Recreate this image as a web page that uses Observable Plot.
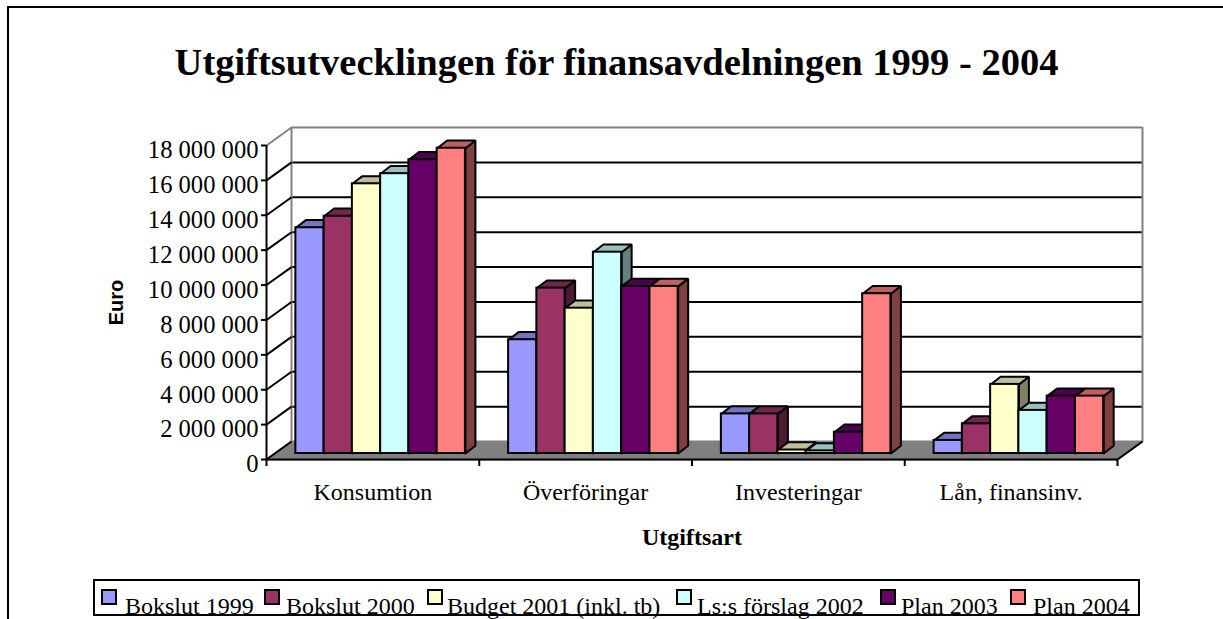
<!DOCTYPE html>
<html lang="sv">
<head>
<meta charset="utf-8">
<title>Utgiftsutvecklingen</title>
<script src="https://cdn.jsdelivr.net/npm/d3@7"></script>
<script src="https://cdn.jsdelivr.net/npm/@observablehq/plot@0.6"></script>
<style>
  html, body { margin: 0; padding: 0; background: #fff; overflow: hidden; width: 1223px; height: 619px; }
  body { position: relative; font-family: "Liberation Serif", "Times New Roman", serif; color: #000; }
  #frame { position: absolute; left: 7px; top: 6px; width: 1216px; height: 613px; border-left: 2px solid #000; border-top: 2px solid #000; box-sizing: border-box; }
  #title { position: absolute; left: 0; width: 1233px; top: 40px; text-align: center; font-size: 38.5px; font-weight: bold; line-height: 44px; white-space: nowrap; }
  #chart { position: absolute; left: 0; top: 110px; }
  #chart svg { display: block; background: transparent; }
  #legend { position: absolute; left: 93px; top: 579px; width: 1043px; height: 33px; border: 2px solid #000; box-sizing: content-box; }
  .sw { position: absolute; top: 8px; width: 12px; height: 12px; border: 2px solid #000; }
  .lb { position: absolute; top: 11px; font-size: 24px; line-height: 28px; white-space: nowrap; }
</style>
</head>
<body>
<div id="frame"></div>
<div id="title">Utgiftsutvecklingen för finansavdelningen 1999 - 2004</div>
<div id="chart"></div>
<div id="legend"></div>
<script>
const categories = ["Konsumtion", "Överföringar", "Investeringar", "Lån, finansinv."];
const seriesNames = ["Bokslut 1999", "Bokslut 2000", "Budget 2001 (inkl. tb)", "Ls:s förslag 2002", "Plan 2003", "Plan 2004"];
const bokslut1999 = [12940000, 6520000, 2270000, 750000];
const bokslut2000 = [13600000, 9480000, 2270000, 1700000];
const budget2001 = [15460000, 8330000, 200000, 3960000];
const forslag2002 = [16040000, 11540000, 150000, 2470000];
const plan2003 = [16840000, 9580000, 1220000, 3290000];
const plan2004 = [17500000, 9580000, 9160000, 3290000];
const seriesValues = [bokslut1999, bokslut2000, budget2001, forslag2002, plan2003, plan2004];
const yTicks = [0, 2e6, 4e6, 6e6, 8e6, 10e6, 12e6, 14e6, 16e6, 18e6];

const frontColors = ["#9999ff", "#993366", "#ffffcc", "#ccffff", "#660066", "#ff8080"];
const topColors = ["#7373bf", "#73264d", "#bfbf99", "#99bfbf", "#4d004d", "#bf6060"];
const sideColors = ["#4d4d80", "#4d1a33", "#808066", "#668080", "#330033", "#804040"];

// Depth of the 3-D box and of the bars, in axis units.
const wallDX = 0.1175, wallDY = 1030000;
const barDX = 0.047, barDY = 440000;
const groupStart = 0.138, groupWidth = 0.797;
const baseY = 344000;
const barW = groupWidth / seriesNames.length;

const fmt = v => d3.format(",")(v).replace(/,/g, " ");

const bars = categories.flatMap((c, i) => seriesNames.map((s, j) => ({
  x1: i + groupStart + j * barW,
  x2: i + groupStart + (j + 1) * barW,
  y1: baseY,
  y2: seriesValues[j][i] + baseY,
  j
})));

// Side and top faces, in painting order, as closed polygons.
const faces = bars.flatMap((b, k) => {
  const side = [[b.x2, b.y1], [b.x2 + barDX, b.y1 + barDY], [b.x2 + barDX, b.y2 + barDY], [b.x2, b.y2], [b.x2, b.y1]];
  const top = [[b.x1, b.y2], [b.x1 + barDX, b.y2 + barDY], [b.x2 + barDX, b.y2 + barDY], [b.x2, b.y2], [b.x1, b.y2]];
  return [
    ...side.map(([x, y]) => ({x, y, id: `s${k}`, fill: sideColors[b.j]})),
    ...top.map(([x, y]) => ({x, y, id: `t${k}`, fill: topColors[b.j]}))
  ];
});

const floor = [[0, 0], [wallDX, wallDY], [4 + wallDX, wallDY], [4, 0], [0, 0]].map(([x, y]) => ({x, y}));
const gray = "#808080";
const topTick = yTicks[yTicks.length - 1];

const plot = Plot.plot({
  width: 1223,
  height: 460,
  marginLeft: 266,
  marginRight: 106,
  marginTop: 35,
  marginBottom: 111,
  style: {fontFamily: '"Liberation Serif", "Times New Roman", serif', fontSize: "24px", background: "transparent", overflow: "visible"},
  x: {domain: [0, 4], axis: null},
  y: {domain: [0, topTick], axis: null},
  marks: [
    Plot.line(floor, {x: "x", y: "y", fill: gray, stroke: gray, strokeWidth: 2}),
    Plot.ruleY(yTicks.filter(v => v > 0 && v < topTick), {y: v => v + wallDY, x1: wallDX, x2: 4 + wallDX, stroke: "#000", strokeWidth: 2}),
    Plot.ruleY([topTick], {y: v => v + wallDY, x1: wallDX, x2: 4 + wallDX, stroke: gray, strokeWidth: 2}),
    Plot.ruleX([wallDX, 4 + wallDX], {y1: wallDY, y2: topTick + wallDY, stroke: gray, strokeWidth: 2}),
    Plot.link(yTicks.filter(v => v < topTick), {x1: () => 0, y1: v => v, x2: () => wallDX, y2: v => v + wallDY, stroke: "#000", strokeWidth: 2}),
    Plot.link([topTick], {x1: () => 0, y1: v => v, x2: () => wallDX, y2: v => v + wallDY, stroke: gray, strokeWidth: 2}),
    Plot.line(faces, {x: "x", y: "y", z: "id", fill: "fill", stroke: "#000", strokeWidth: 2, strokeLinejoin: "miter"}),
    Plot.rect(bars, {x1: "x1", x2: "x2", y1: "y1", y2: "y2", fill: d => frontColors[d.j], stroke: "#000", strokeWidth: 2}),
    Plot.ruleX([0], {y1: 0, y2: topTick, stroke: "#000", strokeWidth: 2}),
    Plot.ruleY([0], {x1: 0, x2: 4, stroke: "#000", strokeWidth: 2}),
    Plot.link([4], {x1: v => v, y1: () => 0, x2: v => v + wallDX, y2: () => wallDY, stroke: "#000", strokeWidth: 2}),
    Plot.axisY({ticks: yTicks, tickSize: 5, tickFormat: () => "", label: null, strokeWidth: 2}),
    Plot.axisY({ticks: yTicks, tickSize: 0, tickPadding: 8, dy: 5, tickFormat: fmt, label: null, fontSize: 24.6}),
    Plot.axisX({ticks: [0, 1, 2, 3, 4], tickSize: 7, tickFormat: () => "", label: null, strokeWidth: 2}),
    Plot.axisX({ticks: [0.5, 1.5, 2.5, 3.5], tickSize: 0, tickPadding: 23, tickFormat: v => categories[v - 0.5], label: null}),
    Plot.text(["Utgiftsart"], {x: () => 2, y: () => 0, dy: 78, text: d => d, fontWeight: "bold", fontSize: 24}),
    Plot.text(["Euro"], {x: () => 0, y: () => 9000000, dx: -150, text: d => d, rotate: -90, fontWeight: "bold", fontSize: 20, fontFamily: '"Liberation Sans", Arial, sans-serif'})
  ]
});
document.getElementById("chart").appendChild(plot);

const swatchLeft = [6, 169, 332, 581, 785, 915];
const labelLeft = [30, 191, 352, 602, 806, 938];
const legend = document.getElementById("legend");
seriesNames.forEach((name, i) => {
  const sw = document.createElement("span");
  sw.className = "sw";
  sw.style.left = swatchLeft[i] + "px";
  sw.style.background = frontColors[i];
  const lb = document.createElement("span");
  lb.className = "lb";
  lb.style.left = labelLeft[i] + "px";
  lb.textContent = name;
  legend.append(sw, lb);
});
</script>
</body>
</html>
